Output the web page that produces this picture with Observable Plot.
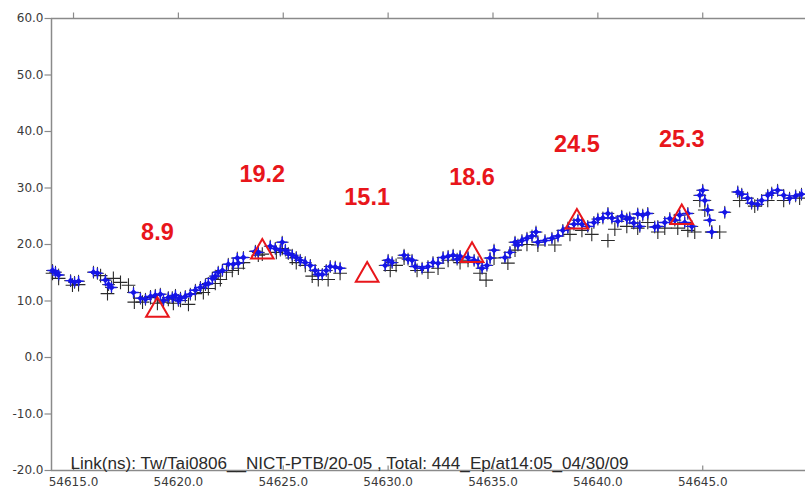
<!DOCTYPE html>
<html>
<head>
<meta charset="utf-8">
<script src="https://cdn.jsdelivr.net/npm/d3@7"></script>
<script src="https://cdn.jsdelivr.net/npm/@observablehq/plot@0.6"></script>
<style>
  html, body { margin: 0; padding: 0; background: #fff; }
  #chart svg { display: block; }
</style>
</head>
<body>
<div id="chart"></div>
<script>
// Link comparison Tw/Tai0806 NICT-PTB, time offsets in ns against MJD.

// Axis ticks
const xTicks = [54615, 54620, 54625, 54630, 54635, 54640, 54645];
const yTicks = [-20, -10, 0, 10, 20, 30, 40, 50, 60];

// TW series (blue markers): MJD and offset (ns)
const twMjd = [
  54614.00, 54614.14, 54614.29, 54614.86, 54615.05, 54615.24, 54615.95, 54616.14,
  54616.52, 54616.67, 54616.81, 54617.86, 54618.19, 54618.43, 54618.67, 54618.90,
  54619.14, 54619.29, 54619.52, 54619.71, 54619.86, 54620.00, 54620.10, 54620.33,
  54620.57, 54620.81, 54621.05, 54621.29, 54621.43, 54621.62, 54621.76, 54621.90,
  54622.10, 54622.38, 54622.62, 54622.81, 54622.86, 54623.10, 54623.67, 54623.81,
  54624.38, 54624.62, 54624.86, 54624.95, 54625.10, 54625.24, 54625.43, 54625.62,
  54625.81, 54626.05, 54626.29, 54626.52, 54626.67, 54626.86, 54627.05, 54627.24,
  54627.48, 54627.71, 54629.86, 54630.00, 54630.19, 54630.76, 54630.95, 54631.14,
  54631.29, 54631.62, 54631.90, 54632.14, 54632.38, 54632.62, 54632.86, 54633.10,
  54633.29, 54633.43, 54633.81, 54634.10, 54634.29, 54634.48, 54634.71, 54634.86,
  54635.05, 54635.57, 54635.81, 54636.05, 54636.19, 54636.38, 54636.62, 54636.86,
  54637.05, 54637.14, 54637.48, 54637.81, 54638.10, 54638.33, 54638.57, 54638.86,
  54639.05, 54639.24, 54639.52, 54639.81, 54640.00, 54640.24, 54640.48, 54640.67,
  54640.95, 54641.14, 54641.38, 54641.52, 54641.71, 54641.90, 54642.00, 54642.14,
  54642.38, 54642.71, 54642.86, 54643.19, 54643.43, 54643.67, 54643.90, 54644.14,
  54644.29, 54644.48, 54644.86, 54645.00, 54645.10, 54645.24, 54645.33, 54645.43,
  54646.05, 54646.67, 54646.86, 54647.14, 54647.33, 54647.62, 54647.81, 54648.10,
  54648.29, 54648.57, 54648.86, 54649.14, 54649.43, 54649.71
];
const twNs = [
  15.4, 15.1, 14.6, 13.6, 13.3, 13.5, 15.1, 14.9,
  13.7, 12.9, 12.4, 11.5, 10.5, 10.3, 10.8, 11.0,
  11.2, 10.1, 10.6, 10.6, 11.0, 10.1, 10.5, 10.8,
  11.2, 11.9, 12.4, 12.9, 13.1, 14.0, 14.4, 15.1,
  15.4, 16.5, 16.5, 17.6, 16.7, 17.7, 18.8, 18.6,
  19.7, 19.3, 19.0, 20.4, 19.0, 18.4, 18.1, 17.7,
  17.2, 16.8, 16.3, 15.4, 14.7, 14.7, 15.4, 16.1,
  16.0, 15.8, 16.3, 17.2, 16.8, 18.1, 17.4, 17.2,
  16.1, 15.8, 16.1, 16.8, 16.7, 17.7, 17.9, 18.1,
  17.4, 17.9, 17.7, 17.2, 16.8, 15.8, 16.3, 17.6,
  19.0, 17.7, 18.6, 20.4, 19.9, 20.7, 21.1, 21.5,
  22.2, 20.4, 20.7, 21.1, 21.5, 22.5, 22.9, 23.6,
  24.3, 23.6, 23.2, 23.9, 24.5, 24.7, 25.5, 24.7,
  24.1, 25.0, 24.5, 24.7, 23.8, 25.4, 23.2, 25.2,
  25.5, 23.1, 23.2, 23.9, 24.6, 24.3, 25.2, 23.9,
  25.5, 23.2, 28.7, 29.6, 27.8, 26.1, 24.3, 22.2,
  25.7, 29.3, 28.9, 28.2, 27.3, 27.1, 27.8, 28.7,
  29.1, 29.6, 28.7, 28.2, 28.6, 28.9
];

// Second series (black crosses): MJD and offset (ns)
const plMjd = [
  54614.00, 54614.29, 54614.95, 54615.24, 54616.29, 54616.62, 54616.90, 54617.24,
  54617.62, 54617.90, 54618.29, 54618.67, 54619.00, 54619.29, 54619.52, 54619.76,
  54620.10, 54620.48, 54620.81, 54621.19, 54621.43, 54621.76, 54622.00, 54622.29,
  54622.57, 54622.86, 54623.10, 54623.81, 54624.00, 54624.67, 54624.95, 54625.43,
  54625.62, 54626.05, 54626.38, 54626.67, 54627.14, 54627.71, 54630.10, 54630.38,
  54630.76, 54631.38, 54631.90, 54632.38, 54632.86, 54633.43, 54633.81, 54634.38,
  54634.67, 54635.05, 54635.71, 54636.05, 54636.62, 54637.14, 54637.95, 54638.67,
  54639.24, 54639.71, 54640.48, 54640.81, 54641.38, 54641.90, 54642.38, 54642.86,
  54643.19, 54643.81, 54644.29, 54644.62, 54644.86, 54645.10, 54645.43, 54645.81,
  54646.76, 54647.48, 54648.10, 54648.86, 54649.62
];
const plNs = [
  14.9, 14.0, 12.8, 12.9, 14.5, 11.3, 14.0, 13.3,
  12.8, 9.8, 9.8, 10.6, 9.6, 9.8, 10.3, 9.6,
  10.1, 9.4, 11.3, 11.5, 12.2, 13.1, 13.8, 15.1,
  15.4, 15.8, 16.8, 18.1, 18.3, 18.6, 19.3, 17.6,
  16.8, 16.3, 14.4, 13.8, 13.8, 14.9, 15.4, 16.3,
  17.6, 15.4, 15.1, 15.8, 17.2, 16.8, 17.2, 14.9,
  13.7, 17.6, 16.7, 19.0, 20.0, 19.9, 19.9, 21.8,
  22.5, 21.8, 20.7, 22.7, 23.2, 22.9, 23.9, 22.2,
  22.9, 22.9, 22.5, 22.2, 27.8, 26.1, 22.2, 22.2,
  27.8, 26.8, 27.8, 27.8, 28.2
];

// Marked reference points (red triangles) and their stated values
const markMjd = [54619, 54624, 54629, 54634, 54639, 54644];
const markNs = [8.9, 19.2, 15.1, 18.6, 24.5, 25.3];

const caption = "Link(ns): Tw/Tai0806__NICT-PTB/20-05 , Total: 444_Ep/at14:05_04/30/09";

const tw = twMjd.map((m, i) => ({mjd: m, ns: twNs[i]}));
const pl = plMjd.map((m, i) => ({mjd: m, ns: plNs[i]}));
const marks = markMjd.map((m, i) => ({mjd: m, ns: markNs[i]}));

const xMin = 54613.95, xMax = 54649.9;
const axisColor = "#8a8a8a";
const tickText = "#3a3a3a";
const red = "#e8161b";

// short tick strokes drawn as custom dot symbols
const tickSymbol = (dx, dy) => ({
  draw(context) { context.moveTo(0, 0); context.lineTo(dx, dy); }
});
const tickUp5 = tickSymbol(0, -5);
const tickUp6 = tickSymbol(0, -6);
const tickLeft7 = tickSymbol(-7, 0);

const chart = Plot.plot({
  width: 805,
  height: 493,
  marginLeft: 51,
  marginRight: 0,
  marginTop: 18,
  marginBottom: 23,
  style: {fontFamily: "'DejaVu Sans', sans-serif", background: "#fff", overflow: "visible"},
  x: {domain: [xMin, xMax], axis: null},
  y: {domain: [-20, 60], axis: null},
  marks: [
    // axis lines
    Plot.ruleX([xMin], {stroke: axisColor, strokeWidth: 1.5}),
    Plot.ruleY([-20, 60], {stroke: axisColor, strokeWidth: 1.5}),
    // y ticks and labels
    Plot.dot(yTicks, {x: xMin, y: d => d, symbol: tickLeft7, fill: "none", stroke: axisColor, strokeWidth: 1.2}),
    Plot.text(yTicks, {x: xMin, y: d => d, text: d => d.toFixed(1), textAnchor: "end", dx: -8, fontSize: 12, fill: tickText}),
    // x ticks (bottom, inward; top, outward) and labels
    Plot.dot(xTicks, {x: d => d, y: -20, symbol: tickUp5, fill: "none", stroke: axisColor, strokeWidth: 1.2}),
    Plot.dot(xTicks, {x: d => d, y: 60, symbol: tickUp6, fill: "none", stroke: axisColor, strokeWidth: 1.2}),
    Plot.text(xTicks, {x: d => d, y: -20, text: d => d.toFixed(1), dy: 12, fontSize: 12, fill: tickText}),
    // data
    Plot.dot(pl, {x: "mjd", y: "ns", symbol: "plus", r: 4.5, stroke: "#2a2a2a", strokeWidth: 1.1}),
    Plot.dot(tw, {x: "mjd", y: "ns", symbol: "plus", r: 4.2, stroke: "#333", strokeWidth: 1}),
    Plot.dot(tw, {x: "mjd", y: "ns", symbol: "plus", r: 3.4, stroke: "#1a1af0", strokeWidth: 1.4}),
    Plot.dot(tw, {x: "mjd", y: "ns", symbol: "square", rotate: 45, r: 2.6, fill: "#1515e6", stroke: "none"}),
    // marked points
    Plot.dot(marks, {x: "mjd", y: "ns", symbol: "triangle", r: 8.4, dy: 3, fill: "none", stroke: red, strokeWidth: 2}),
    Plot.text(marks, {x: "mjd", y: "ns", text: d => d.ns.toFixed(1), dy: -75, fontSize: 23.5, fontWeight: "bold", fontFamily: "'Liberation Sans', Arial, sans-serif", fill: red}),
    // caption inside the frame
    Plot.text([caption], {frameAnchor: "bottom-left", text: d => d, dx: 19, dy: -2, lineAnchor: "bottom", textAnchor: "start", fontSize: 17.1, fontFamily: "'Liberation Sans', Arial, sans-serif", fill: "#2a2a2a"})
  ]
});

document.getElementById("chart").appendChild(chart);
</script>
</body>
</html>
